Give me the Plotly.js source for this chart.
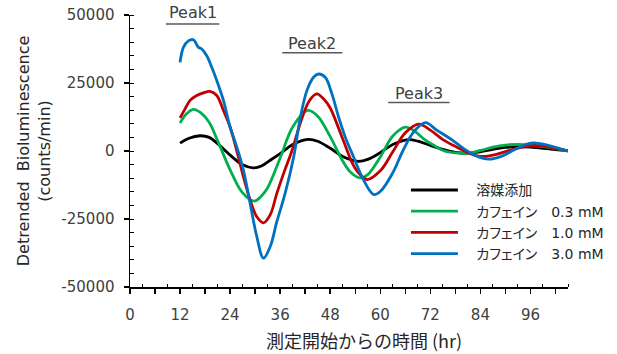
<!DOCTYPE html>
<html>
<head>
<meta charset="utf-8">
<script src="https://cdn.plot.ly/plotly-3.0.1.min.js"></script>
<style>
html,body{margin:0;padding:0;background:#fff;}
#chart{width:617px;height:354px;}
.legendtext{font-feature-settings:"palt";}
</style>
</head>
<body>
<div id="chart"></div>
<script>
// Series names
const seriesNames = ['溶媒添加', 'カフェイン\u30000.3 mM', 'カフェイン\u30001.0 mM', 'カフェイン\u30003.0 mM'];
const seriesColors = ['#000000', '#00b050', '#c00000', '#0070c0'];

// Vehicle (溶媒添加)
const tVehicle = [12,14,16.8,19,21,24,27,29.5,31.5,33.6,36,39,42.7,45,48,51,54.7,57,60,63,66.7,69,71.5,75,78,81,84,87,90,93,96,99,102,105];
const vVehicle = [2900,4600,5600,5000,2700,-1500,-5100,-6200,-5500,-3400,-1000,2400,4300,3600,1000,-2000,-3800,-3100,-600,2400,4200,3600,2300,600,-500,-800,-300,600,1300,1600,1400,1000,500,100];

// Caffeine 0.3 mM
const tCaf03 = [12,13.5,15.2,17,19,21,24,27,29.8,31.5,33,36,39,42.6,45,48,51,53,55.2,57,60,63,66,68,70.4,72.8,75.2,78,81,84,87,90,93,96,99,102,105];
const vCaf03 = [10300,13600,15300,14000,10500,3800,-6900,-15400,-18400,-16500,-13500,-2600,8800,14900,12800,5300,-3700,-8000,-9900,-8700,-2200,5500,8800,7600,4500,2100,100,-700,-800,200,1400,2200,2450,2200,1600,900,0];

// Caffeine 1.0 mM
const tCaf10 = [12,13.2,14.4,16,17.6,19.2,20.8,22.4,24,25.6,27.2,28.8,30.4,32,33.6,35.2,37,38.8,41,43,44.8,46.5,48,51,54,56.8,60,63,66,69.2,72,75,78,81,84,87,90,93,96.5,99,102,105];
const vCaf10 = [12200,15500,18600,20400,21400,21900,20400,14900,8800,0,-9500,-18000,-24200,-26400,-23500,-15600,-7500,0,11000,18500,21000,19000,15800,4400,-6400,-10500,-7300,-300,6700,9900,7700,4200,1700,-600,-2000,-1500,-200,1100,2000,1800,1000,0];

// Caffeine 3.0 mM
const tCaf30 = [12,12.8,14,15.2,16.4,17.2,18.4,19.6,20.8,22.4,24,25.6,27.2,28.8,30.4,32,33.6,35.2,37.2,39.2,40.8,42.4,44,45.2,46.8,48.4,50,51.6,53.6,56,58.4,60,63,65.4,68,70.8,73.6,76.8,80,83,86,89,92,94.5,96.7,100,103,105];
const vCaf30 = [32600,38100,40500,40900,38100,37500,35000,30800,25900,18600,8800,1500,-7100,-19300,-31500,-39400,-35200,-26000,-15500,-2500,12000,22200,27100,28300,27100,21000,12500,5100,-2200,-10700,-16000,-14900,-8000,0,7000,10400,7600,4500,900,-1800,-3000,-2000,400,2200,3000,2200,900,0];

// Axis ticks
const xTickVals = [0,6,12,18,24,30,36,42,48,54,60,66,72,78,84,90,96,102];
const xTickText = ['0','','12','','24','','36','','48','','60','','72','','84','','96',''];
const yTickVals = [-50000,-25000,0,25000,50000];
const yTickText = ['-50000','-25000','0','25000','50000'];

// Peak labels
const peakNames = ['Peak1','Peak2','Peak3'];
const peakCenters = [15.0, 43.7, 69.3];
const peakTextY = [1.009, 0.897, 0.713];   // paper fraction
const peakLineY = [46700, 36100, 17800];
const peakLineX0 = [8.6, 36.5, 61.9];
const peakLineX1 = [21.4, 50.9, 76.6];

const xs = [tVehicle, tCaf03, tCaf10, tCaf30];
const ys = [vVehicle, vCaf03, vCaf10, vCaf30];

const pad = '\u00a0\u00a0\u00a0';
const traces = xs.map((x, i) => ({
  type: 'scatter', mode: 'lines', x: x, y: ys[i], name: pad + seriesNames[i],
  line: {color: seriesColors[i], width: 2.8, shape: 'spline', smoothing: 1},
  hoverinfo: 'skip'
}));

const tickFont = {family: 'DejaVu Sans, Noto Sans CJK JP', size: 15, color: '#404040'};

const annotations = peakNames.map((p, i) => ({
  text: p, x: peakCenters[i], y: peakTextY[i], xref: 'x', yref: 'paper',
  showarrow: false, font: {family: 'DejaVu Sans', size: 16, color: '#404040'},
  xanchor: 'center', yanchor: 'middle'
}));
annotations.push({
  text: '測定開始からの時間 (hr)', xref: 'paper', yref: 'paper',
  x: 0.534, y: -0.195, xanchor: 'center', yanchor: 'middle', showarrow: false,
  font: {family: 'Noto Sans CJK JP', size: 18, color: '#262626'}
});

const shapes = peakNames.map((p, i) => ({
  type: 'line', xref: 'x', yref: 'y',
  x0: peakLineX0[i], x1: peakLineX1[i], y0: peakLineY[i], y1: peakLineY[i],
  line: {color: '#595959', width: 1.5}
}));

const layout = {
  width: 617, height: 354,
  margin: {l: 130, r: 49, t: 15, b: 67, autoexpand: false},
  paper_bgcolor: '#ffffff', plot_bgcolor: '#ffffff',
  showlegend: true,
  legend: {
    x: 0.63, y: 0.414, xanchor: 'left', yanchor: 'top',
    font: {family: 'DejaVu Sans, Noto Sans CJK JP', size: 14, color: '#262626'},
    itemwidth: 47, tracegroupgap: 0, bgcolor: 'rgba(0,0,0,0)'
  },
  xaxis: {
    range: [0, 105], showgrid: false, zeroline: false,
    showline: true, linecolor: '#000000', linewidth: 1.5,
    tickmode: 'array', tickvals: xTickVals, ticktext: xTickText,
    ticks: 'outside', ticklen: 5, tickwidth: 1.5, tickcolor: '#000000',
    minor: {tickmode: 'linear', tick0: 3, dtick: 6, ticks: 'inside', ticklen: 3, tickwidth: 1, tickcolor: '#000000'},
    tickfont: tickFont, ticklabelstandoff: 8, fixedrange: true
  },
  xaxis2: {
    overlaying: 'x', anchor: 'y', side: 'bottom', range: [0, 105],
    showgrid: false, zeroline: false, showline: false,
    tickmode: 'array', tickvals: xTickVals, ticks: 'inside', ticklen: 5, tickwidth: 1.5, tickcolor: '#000000',
    showticklabels: false, fixedrange: true
  },
  yaxis: {
    range: [-50000, 50000], showgrid: false, zeroline: false,
    showline: true, linecolor: '#000000', linewidth: 1.5,
    tickmode: 'array', tickvals: yTickVals, ticktext: yTickText,
    ticks: 'outside', ticklen: 5, tickwidth: 1.5, tickcolor: '#000000',
    minor: {tickmode: 'linear', tick0: 0, dtick: 5000, ticks: 'inside', ticklen: 4, tickwidth: 1, tickcolor: '#000000'},
    tickfont: tickFont, ticklabelstandoff: 6, fixedrange: true,
    title: {text: 'Detrended  Bioluminescence<br>(counts/min)', standoff: 7,
            font: {family: 'DejaVu Sans', size: 16, color: '#262626'}}
  },
  yaxis2: {
    overlaying: 'y', anchor: 'x', side: 'left', range: [-50000, 50000],
    showgrid: false, zeroline: false, showline: false,
    tickmode: 'array', tickvals: yTickVals, ticks: 'inside', ticklen: 5, tickwidth: 1.5, tickcolor: '#000000',
    showticklabels: false, fixedrange: true
  },
  annotations: annotations,
  shapes: shapes
};

Plotly.newPlot('chart', traces, layout, {staticPlot: true, displayModeBar: false});
</script>
</body>
</html>
